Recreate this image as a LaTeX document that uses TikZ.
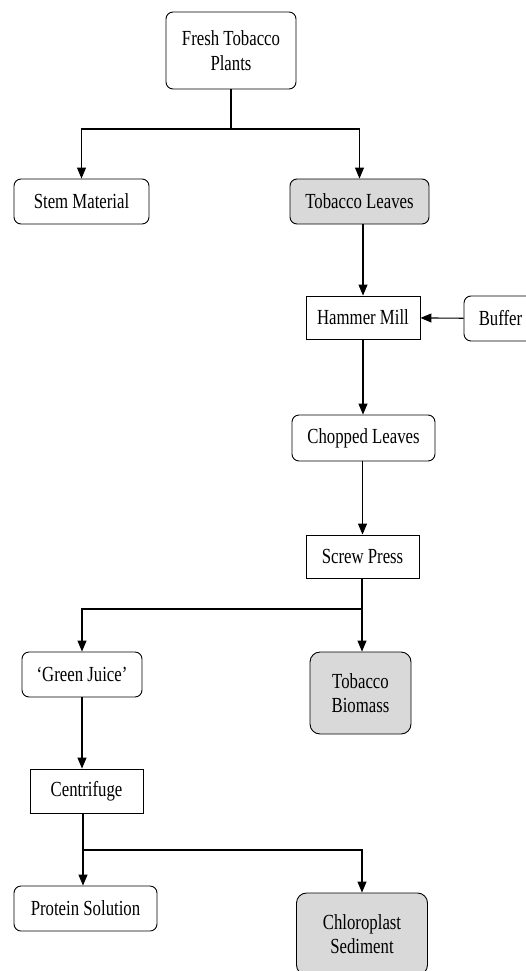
\documentclass[tikz,border=0pt]{standalone}
\usepackage{fontspec}
\setmainfont{Liberation Serif}[FakeStretch=0.78]
\usetikzlibrary{arrows.meta}
\definecolor{leafgray}{RGB}{217,217,217}

\begin{document}
\begin{tikzpicture}[x=1pt,y=-1pt,
    font=\fontsize{21.5}{24.5}\selectfont,
    proc/.style={draw, line width=0.9pt, minimum height=43pt, inner sep=0pt, align=center},
    soft/.style={proc, rounded corners=7pt},
    yield/.style={soft, fill=leafgray, rounded corners=10pt},
    flow/.style={line width=1.1pt, -{Triangle[length=11pt,width=9pt]}}]
    \useasboundingbox (0,0) rectangle (526,971);

    %%%%%%%%%%%%%%%%%%%%%%%%%%%%%%%%%%%%%%%%%%%%%%
    % Harvest: plants split into stems and leaves
    %%%%%%%%%%%%%%%%%%%%%%%%%%%%%%%%%%%%%%%%%%%%%%
    \node[soft, minimum width=130pt, minimum height=77pt] (plants) at (231,50.5) {Fresh Tobacco\\Plants};
    \node[soft, minimum width=135pt, minimum height=45pt] (stem) at (81.5,201.5) {Stem Material};
    \node[yield, rounded corners=7pt, minimum width=139pt, minimum height=45pt] (leaves) at (359.5,201.5) {Tobacco Leaves};

    \coordinate (split1) at (231,129);
    \draw[line width=1.1pt] (plants) -- (split1);
    \draw[flow] (split1) -| (stem);
    \draw[flow] (split1) -| (leaves);

    %%%%%%%%%%%%%%%%%%%%%%%%%%%%%%%%%%%%%%%%%%%%%%
    % Milling and pressing
    %%%%%%%%%%%%%%%%%%%%%%%%%%%%%%%%%%%%%%%%%%%%%%
    \node[proc, minimum width=114pt] (mill) at (363,317.5) {Hammer Mill};
    \node[soft, minimum width=73pt, minimum height=45pt] (buffer) at (500.5,318.5) {Buffer};
    \node[soft, minimum width=143pt, minimum height=46pt] (chopped) at (363.5,438) {Chopped Leaves};
    \node[proc, minimum width=113pt] (press) at (362.5,556.5) {Screw Press};

    \draw[flow] (mill.north |- leaves.south) -- (mill.north);
    \draw[flow] (buffer) -- (mill);
    \draw[flow] (mill.south) -- (mill.south |- chopped.north);
    \draw[flow] (press.north |- chopped.south) -- (press.north);

    %%%%%%%%%%%%%%%%%%%%%%%%%%%%%%%%%%%%%%%%%%%%%%
    % Juice and biomass
    %%%%%%%%%%%%%%%%%%%%%%%%%%%%%%%%%%%%%%%%%%%%%%
    \node[soft, minimum width=120pt, minimum height=45pt] (juice) at (82,674.5) {`Green Juice'};
    \node[yield, minimum width=101pt, minimum height=82pt] (biomass) at (360.5,693) {Tobacco\\Biomass};

    \coordinate (split2) at (362,609);
    \draw[line width=1.1pt] (press.south -| split2) -- (split2);
    \draw[flow] (split2) -- (split2 |- biomass.north);
    \draw[flow] (split2) -| (juice);

    %%%%%%%%%%%%%%%%%%%%%%%%%%%%%%%%%%%%%%%%%%%%%%
    % Centrifuge: protein and chloroplasts
    %%%%%%%%%%%%%%%%%%%%%%%%%%%%%%%%%%%%%%%%%%%%%%
    \node[proc, minimum width=113pt, minimum height=44pt] (centri) at (86.5,791) {Centrifuge};
    \node[soft, minimum width=143pt, minimum height=45pt] (protein) at (85.5,908.5) {Protein Solution};
    \node[yield, minimum width=131pt, minimum height=82pt] (chloro) at (362,934) {Chloroplast\\Sediment};

    \draw[flow] (juice.south) -- (juice.south |- centri.north);
    \coordinate (split3) at (83,850);
    \draw[line width=1.1pt] (centri.south -| split3) -- (split3);
    \draw[flow] (split3) -- (split3 |- protein.north);
    \draw[flow] (split3) -| (chloro);
  \end{tikzpicture}
\end{document}
